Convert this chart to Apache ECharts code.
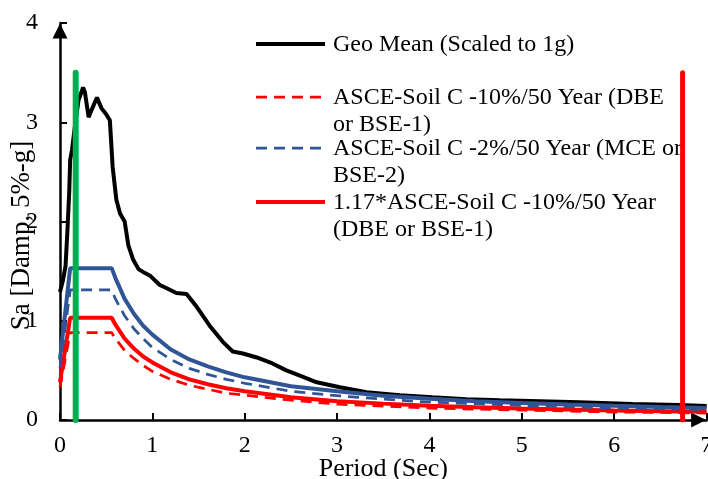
<!DOCTYPE html>
<html>
<head>
<meta charset="utf-8">
<script src="https://cdn.jsdelivr.net/npm/echarts@6/dist/echarts.min.js"></script>
<style>
html,body{margin:0;padding:0;background:#fff;}
#chart{width:708px;height:479px;}
</style>
</head>
<body>
<div id="chart"></div>
<script>
// Geo mean spectrum (scaled to 1g)
var geoPeriods = [0.00,0.03,0.06,0.08,0.10,0.11,0.13,0.16,0.20,0.25,0.27,0.31,0.34,0.40,0.45,0.50,0.54,0.57,0.61,0.65,0.70,0.74,0.79,0.85,0.92,0.98,1.08,1.15,1.26,1.37,1.48,1.62,1.76,1.87,1.98,2.13,2.30,2.45,2.59,2.78,3.03,3.32,3.68,4.03,4.40,4.76,5.20,5.62,6.20,6.70,7.00];
var geoMean    = [1.29,1.40,1.55,1.90,2.30,2.62,2.72,2.95,3.22,3.35,3.30,3.05,3.12,3.25,3.14,3.08,3.02,2.55,2.22,2.08,2.00,1.76,1.62,1.52,1.48,1.45,1.36,1.33,1.28,1.27,1.14,0.95,0.79,0.69,0.67,0.63,0.57,0.50,0.45,0.38,0.33,0.28,0.25,0.23,0.21,0.20,0.19,0.18,0.16,0.15,0.14];

// ASCE design spectra
var codePeriods = [0,0.11,0.56,0.6,0.7,0.8,0.9,1.0,1.2,1.4,1.6,1.8,2.0,2.5,3.0,3.5,4.0,4.5,5.0,5.5,6.0,6.5,7.0];
var dbe    = [0.33,0.88,0.88,0.82,0.70,0.62,0.55,0.49,0.41,0.35,0.31,0.27,0.25,0.20,0.16,0.14,0.12,0.11,0.10,0.09,0.08,0.076,0.07];
var dbe117 = [0.38,1.03,1.03,0.96,0.82,0.72,0.64,0.58,0.48,0.41,0.36,0.32,0.29,0.23,0.19,0.165,0.144,0.128,0.115,0.105,0.096,0.089,0.082];
var mce    = [0.52,1.31,1.31,1.22,1.05,0.92,0.82,0.73,0.61,0.52,0.46,0.41,0.37,0.29,0.245,0.21,0.18,0.163,0.147,0.133,0.122,0.113,0.105];
var mce117 = [0.61,1.53,1.53,1.43,1.22,1.07,0.95,0.86,0.71,0.61,0.54,0.48,0.43,0.34,0.29,0.245,0.214,0.19,0.171,0.156,0.143,0.132,0.122];

// Vertical period-range markers
var lowerPeriod = [0.17, 0.17];
var upperPeriod = [6.74, 6.74];
var markerSa = [0, 3.5];

var xTicks = [0,1,2,3,4,5,6,7];
var yTicks = [0,1,2,3,4];

var legendNames = [
  'Geo Mean (Scaled to 1g)',
  'ASCE-Soil C -10%/50 Year (DBE\nor BSE-1)',
  'ASCE-Soil C -2%/50 Year (MCE or\nBSE-2)',
  '1.17*ASCE-Soil C -10%/50 Year\n(DBE or BSE-1)'
];

function pairs(xs, ys){ return xs.map(function(x,i){ return [x, ys[i]]; }); }

var FONT = "'Liberation Serif','Times New Roman',serif";
var BLUE = '#2F5597';
var RED = '#FF0000';
var GREEN = '#00B050';

var chart = echarts.init(document.getElementById('chart'), null, {renderer:'canvas'});

function legendItem(y, color, dashed, width, text){
  return [
    {type:'line', shape:{x1:256, y1:y, x2:325, y2:y},
     style:{stroke:color, lineWidth:width, lineDash: dashed ? [11,7] : null}},
    {type:'text', style:{text:text, x:333, y:y-13.5, fill:'#000', fontSize:24, fontFamily:FONT, lineHeight:27.5, verticalAlign:'top', align:'left'}}
  ];
}

var graphics = [].concat(
  legendItem(44, '#000', false, 4, legendNames[0]),
  legendItem(97, RED, true, 2.75, legendNames[1]),
  legendItem(148, BLUE, true, 2.75, legendNames[2]),
  legendItem(202, RED, false, 4, legendNames[3])
);

var axisCommon = {
  type:'value',
  nameMoveOverlap:false,
  axisLine:{show:true, onZero:false, symbol:['none','triangle'], symbolSize:[15,15], symbolOffset:[0,-8], lineStyle:{color:'#000', width:2.5}},
  axisTick:{show:true, inside:true, length:7, lineStyle:{color:'#000', width:2}},
  splitLine:{show:false},
  axisLabel:{color:'#000', fontSize:24, fontFamily:FONT}
};

var option = {
  animation:false,
  backgroundColor:'#fff',
  grid:{left:60, right:1.4, top:23, bottom:59, containLabel:false, outerBoundsMode:'none'},
  graphic: graphics,
  xAxis: echarts.util.merge({
    min:xTicks[0], max:xTicks[xTicks.length-1], interval:1,
    name:'Period (Sec)', nameLocation:'middle', nameGap:36,
    nameTextStyle:{color:'#000', fontSize:26, fontFamily:FONT},
    axisLabel:{margin:14, showMaxLabel:true}
  }, axisCommon, false),
  yAxis: echarts.util.merge({
    min:yTicks[0], max:yTicks[yTicks.length-1], interval:1,
    name:'Sa [Damp, 5%-g]', nameLocation:'middle', nameGap:25, nameRotate:90,
    nameTextStyle:{color:'#000', fontSize:27, fontFamily:FONT, padding:[0,28,0,0]},
    axisLabel:{margin:22}
  }, axisCommon, false),
  series:[
    {name:legendNames[0], type:'line', data:pairs(geoPeriods, geoMean), showSymbol:false, symbol:'none',
     lineStyle:{color:'#000', width:4}, z:2},
    {name:'1.17*MCE', type:'line', data:pairs(codePeriods, mce117), symbol:'none',
     lineStyle:{color:BLUE, width:4}, z:3},
    {name:legendNames[3], type:'line', data:pairs(codePeriods, dbe117), symbol:'none',
     lineStyle:{color:RED, width:4}, z:3},
    {name:legendNames[2], type:'line', data:pairs(codePeriods, mce), symbol:'none',
     lineStyle:{color:BLUE, width:2.75, type:[11,7]}, z:4},
    {name:legendNames[1], type:'line', data:pairs(codePeriods, dbe), symbol:'none',
     lineStyle:{color:RED, width:2.75, type:[11,7]}, z:4},
    {name:'lower', type:'line', data:pairs(lowerPeriod, markerSa), symbol:'none',
     lineStyle:{color:GREEN, width:6, cap:'round'}, z:5},
    {name:'upper', type:'line', data:pairs(upperPeriod, markerSa), symbol:'none',
     lineStyle:{color:RED, width:5, cap:'round'}, z:5}
  ]
};
chart.setOption(option);
</script>
</body>
</html>
